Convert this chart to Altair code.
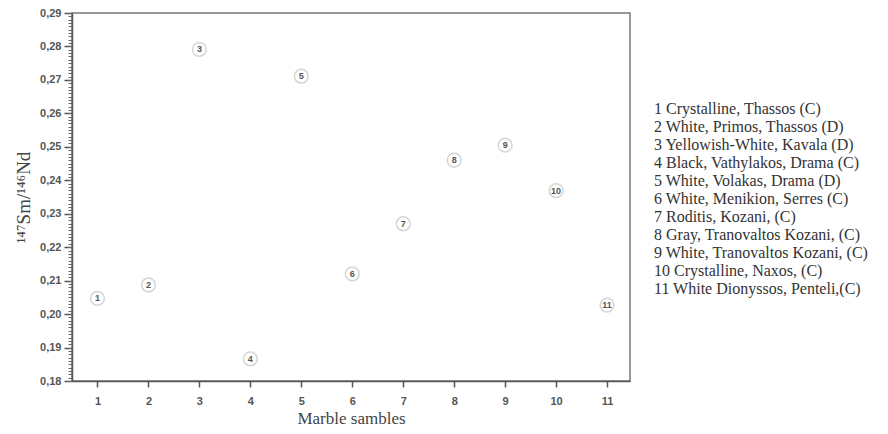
import altair as alt
import pandas as pd

samples = [1, 2, 3, 4, 5, 6, 7, 8, 9, 10, 11]
ratios = [0.2047, 0.2087, 0.2791, 0.1866, 0.2711, 0.2120, 0.2270, 0.2460, 0.2505, 0.2369, 0.2027]
names = [
    "1 Crystalline, Thassos (C)",
    "2 White, Primos, Thassos (D)",
    "3 Yellowish-White, Kavala (D)",
    "4 Black, Vathylakos, Drama (C)",
    "5 White, Volakas, Drama (D)",
    "6 White, Menikion, Serres (C)",
    "7 Roditis, Kozani, (C)",
    "8 Gray, Tranovaltos Kozani, (C)",
    "9 White, Tranovaltos Kozani, (C)",
    "10 Crystalline, Naxos, (C)",
    "11 White Dionyssos, Penteli,(C)",
]
y_major = [0.18, 0.19, 0.20, 0.21, 0.22, 0.23, 0.24, 0.25, 0.26, 0.27, 0.28, 0.29]
y_minor = [round(0.18 + i * 0.001, 3) for i in range(111)]

df = pd.DataFrame({
    "sample": samples,
    "ratio": ratios,
    "name": names,
    "num": [str(s) for s in samples],
})

xscale = alt.Scale(domain=[0.5, 11.45], nice=False, zero=False)
yscale = alt.Scale(domain=[0.18, 0.29], nice=False, zero=False)

xaxis = alt.Axis(
    values=samples, title="Marble sambles", grid=False, orient="bottom",
    tickSize=6, tickColor="#555", tickWidth=1.5,
    domainColor="#555", domainWidth=1.5,
    labelFont="Liberation Sans", labelFontSize=11, labelFontWeight="bold",
    labelColor="#555", labelPadding=8,
    titleFont="Liberation Serif", titleFontSize=17, titleFontWeight="normal",
    titleColor="#444", titlePadding=4,
)
yaxis = alt.Axis(
    values=y_major, title="¹⁴⁷Sm/¹⁴⁶Nd", grid=False, orient="left",
    tickSize=8, tickColor="#555", tickWidth=1.5,
    domainColor="#555", domainWidth=1.5,
    labelExpr="replace(format(datum.value, '.2f'), '.', ',')",
    labelFont="Liberation Sans", labelFontSize=11, labelFontWeight="bold",
    labelColor="#555", labelPadding=3,
    titleFont="Liberation Serif", titleFontSize=19, titleFontWeight="normal",
    titleColor="#444", titlePadding=6,
)
yaxis_minor = alt.Axis(
    values=y_minor, title="", grid=False, labels=False, domain=False,
    orient="left", tickSize=4, tickColor="#666", tickWidth=1,
)

X = alt.X("sample:Q", scale=xscale, axis=xaxis)

base = alt.Chart(df)

circles = base.mark_point(shape="circle", filled=False, size=190, strokeWidth=1.5).encode(
    x=X,
    y=alt.Y("ratio:Q", scale=yscale, axis=yaxis),
    color=alt.Color(
        "name:N",
        scale=alt.Scale(domain=names, range=["#c4c4c4"] * len(names)),
        legend=alt.Legend(
            title=None, orient="none", legendX=566, legendY=88,
            symbolSize=0, symbolOpacity=0, symbolStrokeWidth=0,
            labelOffset=0, labelFont="Liberation Serif", labelFontSize=16,
            labelColor="#333", labelLimit=400, rowPadding=2, padding=0,
        ),
    ),
)

labels = base.mark_text(
    font="Liberation Sans", fontSize=9, fontWeight="bold", color="#555"
).encode(
    x=X,
    y=alt.Y("ratio:Q", scale=yscale, axis=None),
    text="num:N",
)

minor = base.mark_point(opacity=0).encode(
    x=X,
    y=alt.Y("ratio:Q", scale=yscale, axis=yaxis_minor),
)

chart = (
    alt.layer(circles, labels, minor)
    .resolve_axis(y="independent")
    .properties(
        width=558, height=368,
        autosize=alt.AutoSizeParams(type="none"),
        padding={"left": 64, "top": 5, "right": 250, "bottom": 45},
        background="white",
    )
    .configure_view(stroke="#777", strokeWidth=1.5)
)

chart.save("out.html", embed_options={"renderer": "svg", "actions": False})
